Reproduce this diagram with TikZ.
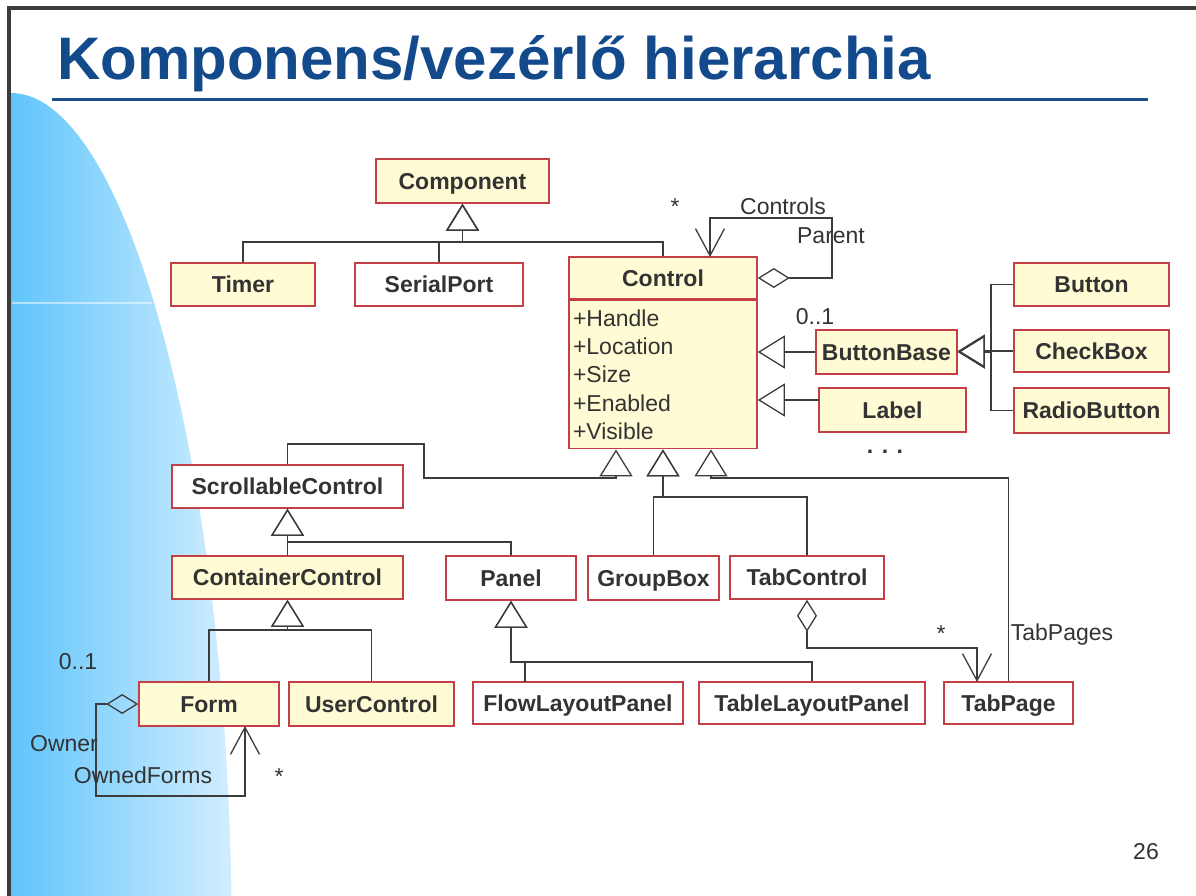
\documentclass[tikz,border=0pt]{standalone}
\usepackage{fontspec}
\setmainfont{Liberation Sans}
\usetikzlibrary{arrows.meta}

\definecolor{titleblue}{RGB}{18,74,140}
\definecolor{ruleblue}{RGB}{30,78,140}
\definecolor{boxred}{RGB}{196,64,70}
\definecolor{classyellow}{RGB}{255,251,212}
\definecolor{inkgray}{RGB}{51,51,51}
\definecolor{linegray}{RGB}{60,60,60}
\definecolor{skyleft}{RGB}{96,197,251}
\definecolor{skyright}{RGB}{210,238,255}

\begin{document}
\begin{tikzpicture}[x=1pt,y=-1pt]
            \useasboundingbox (0,0) rectangle (1196,896);
            \tikzset{classbox/.style={draw=boxred,line width=1.6pt,fill=white,text=inkgray,
                font=\bfseries\fontsize{23}{27}\selectfont,inner sep=0pt,text height=16.5pt,text depth=0pt}};
            \tikzset{yclass/.style={classbox,fill=classyellow}};
            \tikzset{tag/.style={text=inkgray,font=\fontsize{23}{27}\selectfont,inner sep=0pt}};
            \tikzset{gen/.style={draw=linegray,line width=1.3pt,-{Triangle[open,length=27pt,width=33pt]}}};
            \tikzset{agg/.style={draw=linegray,line width=1.3pt,
                {Diamond[open,length=32pt,width=20pt]}-{Straight Barb[length=27pt,width=29pt]}}};

            \shade[left color=skyleft,right color=skyright] (10,896) -- (10,93)
                .. controls (128,91) and (232,475) .. (232,950) -- (10,950) -- cycle;
            \draw[white,opacity=0.5,line width=1.5pt] (12,303) -- (152,303);
            \draw[linegray,line width=4pt] (9,896) -- (9,8.5) -- (1196,8.5);

            \node[anchor=base west,text=titleblue,inner sep=0pt,
                font=\bfseries\fontsize{60}{70}\selectfont] (title) at (57,80) {Komponens/vezérlő hierarchia};
            \draw[ruleblue,line width=3pt] (52,99.5) -- (1148,99.5);

            \node[yclass,minimum width=173pt,minimum height=44pt] (comp) at (462.5,181) {Component};
            \node[yclass,minimum width=144pt,minimum height=43pt] (timer) at (243,284.5) {Timer};
            \node[classbox,minimum width=168pt,minimum height=43pt] (serial) at (439,284.5) {SerialPort};
            \node[yclass,minimum width=188pt,minimum height=42pt] (ctl) at (663,278) {Control};
            \node[yclass,anchor=north,minimum width=188pt,minimum height=148pt,text width=180pt,align=left,
                text height=,text depth=,font=\fontsize{23}{28.3}\selectfont] (ctlattr) at (ctl.south)
                {+Handle\\+Location\\+Size\\+Enabled\\+Visible};

            \node[yclass,minimum width=155pt,minimum height=43pt] (button) at (1091.5,284.5) {Button};
            \node[yclass,minimum width=141pt,minimum height=44pt] (bbase) at (886.5,352) {ButtonBase};
            \node[yclass,minimum width=155pt,minimum height=42pt] (checkbox) at (1091.5,351) {CheckBox};
            \node[yclass,minimum width=147pt,minimum height=44pt] (label) at (892.5,410) {Label};
            \node[yclass,minimum width=155pt,minimum height=45pt] (radio) at (1091.5,410.5) {RadioButton};

            \node[classbox,minimum width=231pt,minimum height=43pt] (scroll) at (287.5,486.5) {ScrollableControl};
            \node[yclass,minimum width=231pt,minimum height=43pt] (container) at (287.5,577.5) {ContainerControl};
            \node[classbox,minimum width=130pt,minimum height=44pt] (panel) at (511,578) {Panel};
            \node[classbox,minimum width=131pt,minimum height=44pt] (groupbox) at (653.5,578) {GroupBox};
            \node[classbox,minimum width=154pt,minimum height=43pt] (tabctl) at (807,577.5) {TabControl};

            \node[yclass,minimum width=140pt,minimum height=44pt] (form) at (209,704) {Form};
            \node[yclass,minimum width=165pt,minimum height=44pt] (userctl) at (371.5,704) {UserControl};
            \node[classbox,minimum width=210pt,minimum height=42pt] (flow) at (578,703) {FlowLayoutPanel};
            \node[classbox,minimum width=226pt,minimum height=42pt] (table) at (812,703) {TableLayoutPanel};
            \node[classbox,minimum width=129pt,minimum height=42pt] (tabpage) at (1008.5,703) {TabPage};

            \coordinate (compbus) at (462.5,242);
            \coordinate (btnbus) at (991,352);
            \coordinate (labelin) at (819,400);
            \coordinate (scrollbend) at (424,444);
            \coordinate (leftbus) at (616,478);
            \coordinate (midbus) at (663,497);
            \coordinate (rightbus) at (711,478);
            \coordinate (scrollbus) at (287.5,542);
            \coordinate (contbus) at (287.5,630);
            \coordinate (panelbus) at (511,662);
            \coordinate (flowin) at (525,682);

            \draw[gen] (timer.north) |- (compbus) -- (comp.south);
            \draw[gen] (serial.north) |- (compbus) -- (comp.south);
            \draw[gen] (ctl.north) |- (compbus) -- (comp.south);

            \draw[gen] (bbase.west) -- (bbase.west -| ctl.east);
            \draw[gen] (labelin) -- (labelin -| ctl.east);
            \draw[gen] (button.west) -| (btnbus) -- (bbase.east);
            \draw[gen] (checkbox.west) -- (checkbox.west -| bbase.east);
            \draw[gen] (radio.west) -| (btnbus) -- (bbase.east);

            \draw[gen] (scroll.north) |- (scrollbend) |- (leftbus) -- (leftbus |- ctlattr.south);
            \draw[gen] (groupbox.north) |- (midbus) -- (ctlattr.south);
            \draw[gen] (tabctl.north) |- (midbus) -- (ctlattr.south);
            \draw[gen] (tabpage.north) |- (rightbus) -- (rightbus |- ctlattr.south);

            \draw[gen] (container.north) -- (scroll.south);
            \draw[gen] (panel.north) |- (scrollbus) -- (scroll.south);
            \draw[gen] (form.north) |- (contbus) -- (container.south);
            \draw[gen] (userctl.north) |- (contbus) -- (container.south);
            \draw[gen] (flowin) |- (panelbus) -- (panel.south);
            \draw[gen] (table.north) |- (panelbus) -- (panel.south);

            \coordinate (ctlloop) at (832,218);
            \coordinate (ctlin) at (710,257);
            \coordinate (tabbend) at (977,648);
            \coordinate (tabin) at (977,682);
            \coordinate (formloop) at (96,796);
            \coordinate (formin) at (245,726);

            \draw[agg] (ctl.east) -| (ctlloop) -| (ctlin);
            \draw[agg] (tabctl.south) |- (tabbend) -- (tabin);
            \draw[agg] (form.west) -| (formloop) -| (formin);

            \node[tag] (ctlstar) at (675,207) {*};
            \node[tag] (ctlrole) at (783,206) {Controls};
            \node[tag] (ctlparent) at (831,236) {Parent};
            \node[tag] (bbmult) at (815,317) {0..1};
            \node[tag,font=\bfseries\fontsize{23}{27}\selectfont] (more) at (885,452) {. . .};
            \node[tag] (tabstar) at (941,634) {*};
            \node[tag] (tabrole) at (1062,635) {TabPages};
            \node[tag] (formmult) at (78,662) {0..1};
            \node[tag] (ownerrole) at (64,744) {Owner};
            \node[tag] (ownedrole) at (143,775) {OwnedForms};
            \node[tag] (formstar) at (279,777) {*};
            \node[tag] (pagenum) at (1146,852) {26};
\end{tikzpicture}
\end{document}
